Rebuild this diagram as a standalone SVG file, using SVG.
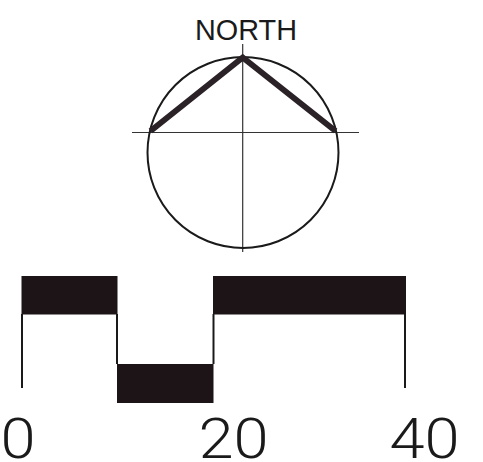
<svg xmlns="http://www.w3.org/2000/svg" width="483" height="462" viewBox="0 0 483 462">
<style>
.thin{stroke:#333;stroke-width:1.2;fill:none}
.ln{stroke:#1a1a1a;stroke-width:2;fill:none}
.bar{fill:#1c1416}
.lbl{font-family:Roboto,"Liberation Sans",sans-serif;font-weight:300;fill:#1a1a1a;text-anchor:middle}
.ttl{font-family:"Liberation Sans",Arial,sans-serif;fill:#1a1a1a;text-anchor:middle}
</style>
<rect width="483" height="462" fill="#fff"/>
<g id="compass">
<line class="thin" x1="132" y1="132.5" x2="359" y2="132.5"/>
<line class="thin" x1="242.7" y1="44" x2="242.7" y2="252"/>
<circle cx="243" cy="152.5" r="95.5" stroke="#1a1a1a" stroke-width="2" fill="none"/>
<polyline points="150.5,131 242.7,57.5 335.5,131" stroke="#2a2226" stroke-width="6" fill="none" stroke-linejoin="miter"/>
<text class="ttl" x="246" y="40" font-size="29" textLength="102" lengthAdjust="spacingAndGlyphs">NORTH</text>
</g>
<g id="chart">
<rect class="bar" x="21.5" y="276" width="96" height="38.5"/>
<rect class="bar" x="117" y="364" width="96.5" height="39"/>
<rect class="bar" x="213" y="276" width="193" height="38.5"/>
<line class="ln" x1="22" y1="314" x2="22" y2="388"/>
<line class="ln" x1="117" y1="314" x2="117" y2="364"/>
<line class="ln" x1="213.5" y1="314" x2="213.5" y2="364"/>
<line class="ln" x1="405" y1="314" x2="405" y2="388"/>
</g>
<g id="labels">
<text class="lbl" transform="translate(18,458) scale(1.13,1)" font-size="56">0</text>
<text class="lbl" transform="translate(233.5,458) scale(1.13,1)" font-size="56">20</text>
<text class="lbl" transform="translate(424.5,458) scale(1.13,1)" font-size="56">40</text>
</g>
</svg>
